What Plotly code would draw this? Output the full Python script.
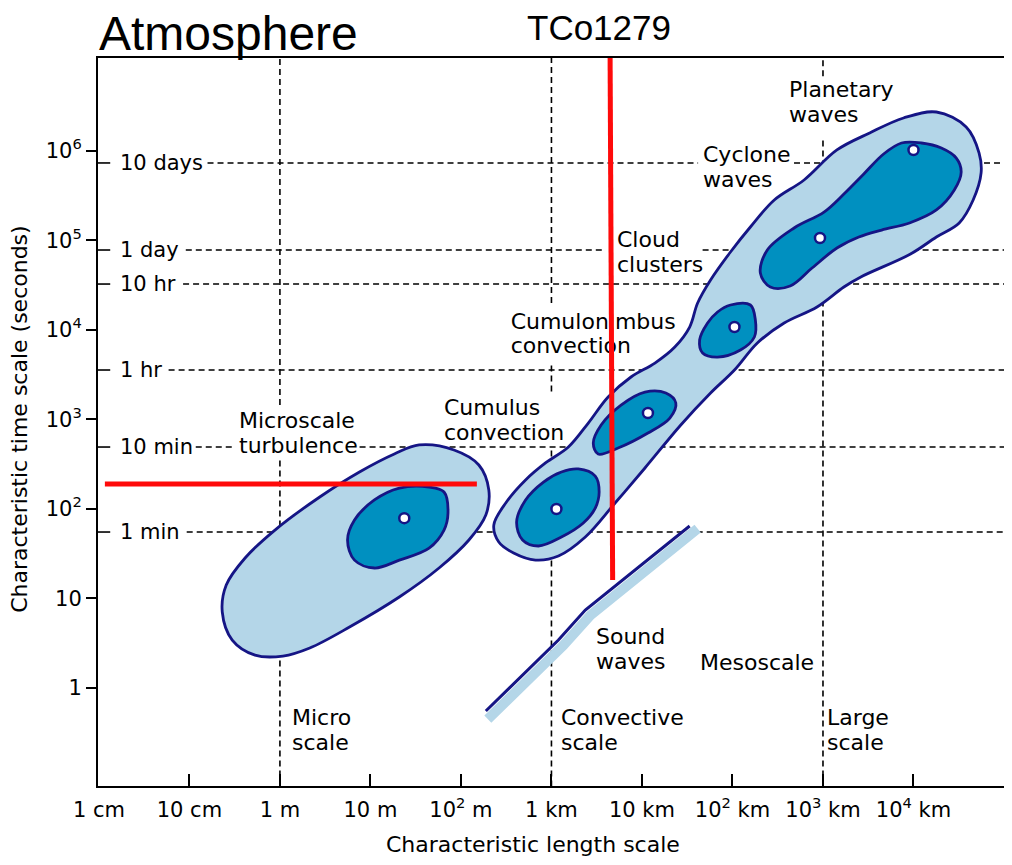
import plotly.graph_objects as go

# ---------------- axis ticks ----------------
x_tick_m = [1e-2, 1e-1, 1e0, 1e1, 1e2, 1e3, 1e4, 1e5, 1e6, 1e7]
x_tick_labels = ["1 cm", "10 cm", "1 m", "10 m", "10<sup>2</sup> m", "1 km", "10 km",
                 "10<sup>2</sup> km", "10<sup>3</sup> km", "10<sup>4</sup> km"]
y_tick_s = [1, 10, 100, 1e3, 1e4, 1e5, 1e6]
y_tick_labels = ["1", "10", "10<sup>2</sup>", "10<sup>3</sup>", "10<sup>4</sup>", "10<sup>5</sup>", "10<sup>6</sup>"]

# axis ranges (log10 metres / log10 seconds)
x_range_log = [-2.01, 8.0]
y_range_log = [-1.094, 7.035]

# ---------------- reference time lines (log10 s, as drawn) ----------------
time_labels = ["10 days", "1 day", "10 hr", "1 hr", "10 min", "1 min"]
time_log_s = [5.863, 4.891, 4.511, 3.551, 2.691, 1.742]
time_dash_segments = [
    [(-0.80, 4.62), (5.68, 8.0)],
    [(-1.04, 3.59), (4.67, 8.0)],
    [(-1.07, 8.0)],
    [(-1.23, 8.0)],
    [(-0.93, -0.53), (0.88, 8.0)],
    [(-1.03, 8.0)],
]

# ---------------- reference scale lines (log10 m) ----------------
scale_log_m = [0.0, 3.0, 6.0]
scale_dash_segments = [
    [(3.16, 7.04), (-1.10, 2.55)],
    [(4.30, 7.04), (3.31, 3.64), (-1.10, 2.69)],
    [(6.83, 7.04), (-1.10, 6.14)],
]

# ---------------- phenomena outlines (log10 m, log10 s) ----------------
micro_outer_lx = [1.538, 1.923, 2.198, 2.308, 2.275, 2.088, 1.758, 1.319, 0.769, 0.330, 0.033, -0.275,
                  -0.527, -0.637, -0.593, -0.385, -0.055, 0.440, 0.879, 1.264]
micro_outer_ly = [2.714, 2.658, 2.490, 2.211, 1.932, 1.653, 1.340, 1.016, 0.681, 0.447, 0.357, 0.368,
                  0.536, 0.849, 1.150, 1.452, 1.764, 2.133, 2.412, 2.613]

micro_core_lx = [1.319, 1.648, 1.813, 1.857, 1.813, 1.648, 1.319, 1.044, 0.824, 0.747, 0.824, 1.044]
micro_core_ly = [2.233, 2.244, 2.189, 1.954, 1.764, 1.562, 1.428, 1.340, 1.428, 1.653, 1.876, 2.100]

band_lx = [2.363, 2.418, 2.582, 2.824, 3.077, 3.374, 3.703, 4.033, 4.429, 4.758, 5.022, 5.275, 5.571,
           5.934, 6.231, 6.418, 6.967, 7.253, 7.505, 7.659, 7.747, 7.725, 7.582, 7.253, 6.890, 6.516,
           6.154, 5.791, 5.462, 5.198, 4.978, 4.758, 4.615, 4.527, 4.363, 4.143, 3.879, 3.626, 3.407,
           3.187, 2.934, 2.714, 2.495]
band_ly = [1.820, 1.630, 1.508, 1.429, 1.474, 1.686, 2.066, 2.457, 2.937, 3.294, 3.551, 3.853, 4.076,
           4.255, 4.478, 4.590, 4.846, 5.036, 5.193, 5.449, 5.751, 5.974, 6.265, 6.432, 6.365, 6.198,
           6.008, 5.673, 5.449, 5.148, 4.869, 4.556, 4.299, 4.031, 3.808, 3.629, 3.473, 3.250, 2.959,
           2.691, 2.513, 2.323, 2.066]

cumulus_core_lx = [3.297, 3.484, 3.527, 3.484, 3.352, 3.110, 2.857, 2.681, 2.615, 2.714, 2.912, 3.110]
cumulus_core_ly = [2.446, 2.367, 2.189, 2.010, 1.843, 1.686, 1.586, 1.653, 1.854, 2.099, 2.300, 2.412]

cb_core_lx = [4.033, 4.264, 4.374, 4.308, 4.066, 3.736, 3.516, 3.462, 3.549, 3.769]
cb_core_ly = [3.305, 3.294, 3.183, 3.015, 2.848, 2.680, 2.613, 2.736, 2.937, 3.160]

cloud_core_lx = [4.978, 5.198, 5.253, 5.242, 5.088, 4.835, 4.670, 4.637, 4.725, 4.835]
cloud_core_ly = [4.277, 4.277, 4.109, 3.920, 3.774, 3.696, 3.741, 3.886, 4.076, 4.199]

synoptic_core_lx = [6.868, 7.088, 7.308, 7.473, 7.527, 7.451, 7.253, 6.956, 6.648, 6.396, 6.154, 5.879,
                    5.637, 5.418, 5.308, 5.385, 5.681, 6.011, 6.231, 6.451, 6.670]
synoptic_core_ly = [6.086, 6.086, 6.030, 5.918, 5.762, 5.561, 5.338, 5.193, 5.114, 5.036, 4.913, 4.690,
                    4.489, 4.478, 4.634, 4.891, 5.137, 5.315, 5.516, 5.740, 5.963]

center_lx = [1.374, 3.055, 4.066, 5.022, 5.967, 7.000]
center_ly = [1.897, 1.999, 3.071, 4.031, 5.025, 6.008]

sound_line_lx = [2.275, 3.077, 3.374, 4.527]
sound_line_ly = [-0.257, 0.536, 0.871, 1.809]
sound_band_lx = [2.297, 3.132, 3.429, 4.615]
sound_band_ly = [-0.347, 0.476, 0.811, 1.779]

# TCo1279 resolution markers
red_h_lx = [-1.934, 2.176]
red_h_ly = [2.278, 2.278]
red_v_lx = [3.648, 3.676]
red_v_ly = [7.035, 1.206]

# ---------------- labels (lines, left x in log10 m, first-line y in log10 s) ----------------
label_lines = [
    (["Planetary", "waves"], 5.604, 6.678),
    (["Cyclone", "waves"], 4.648, 5.953),
    (["Cloud", "clusters"], 3.703, 5.003),
    (["Cumulus", "convection"], 1.791, 3.138),
    (["Microscale", "turbulence"], -0.473, 2.982),
    (["Sound", "waves"], 3.473, 0.570),
    (["Mesoscale"], 4.615, 0.290),
    (["Micro", "scale"], 0.110, -0.324),
    (["Convective", "scale"], 3.088, -0.324),
    (["Large", "scale"], 6.022, -0.324),
]
# this label lies under the red TCo1279 line, so it is drawn as a data text trace
cb_label_lines = ["Cumulonimbus", "convection"]
cb_label_lx = 2.549
cb_label_ly = [4.076, 3.797]

# ---------------- styles ----------------
LIGHT = "#b4d6e8"
DARK = "#0090c0"
NAVY = "#151585"
RED = "#ff0a0a"
FONT = "DejaVu Sans"


def p10(vals):
    return [None if v is None else 10 ** v for v in vals]


fig = go.Figure()

# dashed time lines
dx, dy = [], []
for lv, segs in zip(time_log_s, time_dash_segments):
    for a, b in segs:
        dx += [a, b, None]
        dy += [lv, lv, None]
fig.add_trace(go.Scatter(x=p10(dx), y=p10(dy), mode="lines",
                         line=dict(color="black", width=1.6, dash="6px,4px"), hoverinfo="skip"))
# dashed scale lines
dx, dy = [], []
for lv, segs in zip(scale_log_m, scale_dash_segments):
    for a, b in segs:
        dx += [lv, lv, None]
        dy += [a, b, None]
fig.add_trace(go.Scatter(x=p10(dx), y=p10(dy), mode="lines",
                         line=dict(color="black", width=1.6, dash="6px,4px"), hoverinfo="skip"))
# inside ticks for time labels
tx, ty = [], []
for lv in time_log_s:
    tx += [x_range_log[0], x_range_log[0] + 0.135, None]
    ty += [lv, lv, None]
fig.add_trace(go.Scatter(x=p10(tx), y=p10(ty), mode="lines",
                         line=dict(color="black", width=1.6), hoverinfo="skip"))


def blob(lx, ly, fill):
    xs = p10(lx + [lx[0]])
    ys = p10(ly + [ly[0]])
    fig.add_trace(go.Scatter(x=xs, y=ys, mode="lines", fill="toself", fillcolor=fill,
                             line=dict(color=NAVY, width=2.8, shape="spline", smoothing=1.0),
                             hoverinfo="skip"))


blob(micro_outer_lx, micro_outer_ly, LIGHT)
blob(micro_core_lx, micro_core_ly, DARK)
blob(band_lx, band_ly, LIGHT)
blob(cumulus_core_lx, cumulus_core_ly, DARK)
blob(cb_core_lx, cb_core_ly, DARK)
blob(cloud_core_lx, cloud_core_ly, DARK)
blob(synoptic_core_lx, synoptic_core_ly, DARK)

fig.add_trace(go.Scatter(x=p10(sound_band_lx), y=p10(sound_band_ly), mode="lines",
                         line=dict(color=LIGHT, width=10), hoverinfo="skip"))
fig.add_trace(go.Scatter(x=p10(sound_line_lx), y=p10(sound_line_ly), mode="lines",
                         line=dict(color=NAVY, width=3), hoverinfo="skip"))

fig.add_trace(go.Scatter(x=p10(center_lx), y=p10(center_ly), mode="markers",
                         marker=dict(size=10, color="white", line=dict(color=NAVY, width=2.5)),
                         hoverinfo="skip"))

fig.add_trace(go.Scatter(x=p10([cb_label_lx] * len(cb_label_lines)), y=p10(cb_label_ly),
                         mode="text", text=cb_label_lines, textposition="middle right",
                         textfont=dict(size=22, family=FONT, color="black"), hoverinfo="skip"))

fig.add_trace(go.Scatter(x=p10(red_h_lx), y=p10(red_h_ly), mode="lines",
                         line=dict(color=RED, width=5), hoverinfo="skip"))
fig.add_trace(go.Scatter(x=p10(red_v_lx), y=p10(red_v_ly), mode="lines",
                         line=dict(color=RED, width=5), hoverinfo="skip"))

annotations = []
for name, lv in zip(time_labels, time_log_s):
    annotations.append(dict(text=name, x=-1.79, y=lv, xref="x", yref="y", xanchor="left",
                            yanchor="middle", showarrow=False, font=dict(size=21, family=FONT)))
for lines, lx, ly in label_lines:
    for i, t in enumerate(lines):
        annotations.append(dict(text=t, x=lx, y=ly, xref="x", yref="y", xanchor="left",
                                yanchor="middle", yshift=-25 * i, showarrow=False,
                                font=dict(size=22, family=FONT)))

annotations.append(dict(text="Atmosphere", x=0.0, y=1.0, xref="paper", yref="paper",
                        xanchor="left", yanchor="bottom", yshift=-3, borderpad=0, showarrow=False,
                        font=dict(size=48, family="Liberation Sans")))
annotations.append(dict(text="TCo1279", x=0.553, y=1.0, xref="paper", yref="paper",
                        xanchor="center", yanchor="bottom", yshift=10, borderpad=0, showarrow=False,
                        font=dict(size=35, family="Liberation Sans")))
annotations.append(dict(text="Characteristic length scale", x=0.48, y=0.0, xref="paper", yref="paper",
                        xanchor="center", yanchor="middle", yshift=-58, showarrow=False,
                        font=dict(size=22, family=FONT)))
annotations.append(dict(text="Characteristic time scale (seconds)", x=0.0, y=0.503, xref="paper",
                        yref="paper", xanchor="center", yanchor="middle", xshift=-78, textangle=-90,
                        borderpad=0, showarrow=False, font=dict(size=22, family=FONT)))

# page body has an 8px margin: offset the figure so the plot area lands at the reference position
fig.update_layout(
    width=1004, height=857,
    margin=dict(l=90, r=6, t=50, b=79),
    plot_bgcolor="white", paper_bgcolor="white",
    showlegend=False,
    font=dict(family=FONT, size=21, color="black"),
    annotations=annotations,
    xaxis=dict(type="log", range=x_range_log, tickvals=x_tick_m, ticktext=x_tick_labels,
               ticks="inside", ticklen=12, tickwidth=1.5, tickcolor="black",
               showline=True, linecolor="black", linewidth=2, mirror=True,
               showgrid=False, zeroline=False, ticklabelstandoff=4,
               tickfont=dict(size=21, family=FONT)),
    yaxis=dict(type="log", range=y_range_log, tickvals=y_tick_s, ticktext=y_tick_labels,
               ticks="outside", ticklen=10, tickwidth=1.5, tickcolor="black",
               showline=True, linecolor="black", linewidth=2, mirror=True,
               showgrid=False, zeroline=False,
               tickfont=dict(size=21, family=FONT)),
)

fig.write_html("out.html")
